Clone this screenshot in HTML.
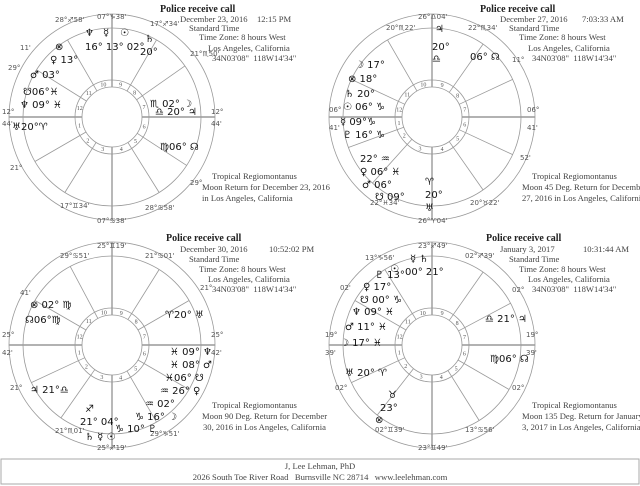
<!DOCTYPE html>
<html><head><meta charset="utf-8"><style>
body{margin:0;width:640px;height:486px;background:#fff;overflow:hidden;font-family:"Liberation Serif","DejaVu Serif",serif;color:#333;position:relative}
.t{position:absolute;font-size:8.6px;line-height:9px;white-space:nowrap;color:#444}
.h{position:absolute;font-size:10px;line-height:10px;font-weight:bold;white-space:nowrap;color:#222}
svg{position:absolute;left:0;top:0}
.g{font-family:"DejaVu Sans",sans-serif;fill:#111;font-size:10px}
.d{font-family:"DejaVu Sans",sans-serif;fill:#555;font-size:7px}
</style></head><body>
<svg id="sv" width="640" height="486" xmlns="http://www.w3.org/2000/svg">
<g id="charts" stroke="#999" fill="none" stroke-width="0.8"></g>
<rect x="1" y="459" width="638" height="25" fill="none" stroke="#aaa"/>
<!-- TL -->
<g class="d"><text x="97" y="19">07°♑38'</text><text x="97" y="223">07°♋38'</text><text x="2" y="114">12°</text><text x="2" y="126">44'</text><text x="211" y="114">12°</text><text x="211" y="126">44'</text><text x="55" y="22">28°♐58'</text><text x="150" y="26">17°♐34'</text><text x="190" y="56">21°♏50'</text><text x="20" y="50">11'</text><text x="8" y="70">29°</text><text x="10" y="170">21°</text><text x="190" y="185">29°</text><text x="60" y="208">17°♊34'</text><text x="145" y="210">28°♋58'</text></g>
<g class="g"><text x="85" y="36">♆</text><text x="103" y="36">☿</text><text x="120" y="36">☉</text><text x="145" y="42">♄</text><text x="55" y="50">⊗</text><text x="50" y="63">♀ 13°</text><text x="30" y="78">♂ 03°</text><text x="23" y="95">☋06°♓</text><text x="20" y="108">♆ 09° ♓</text><text x="12" y="130">♅20°♈</text><text x="150" y="107">♏ 02° ☽</text><text x="155" y="115">♎ 20° ♃</text><text x="160" y="150">♍06° ☊</text><text x="85" y="50">16° 13° 02°</text><text x="140" y="55">20°</text></g>
<!-- TR -->
<g class="d"><text x="418" y="19">26°♎04'</text><text x="418" y="223">26°♈04'</text><text x="329" y="112">06°</text><text x="329" y="130">41'</text><text x="527" y="112">06°</text><text x="527" y="130">41'</text><text x="386" y="30">20°♏22'</text><text x="468" y="30">22°♏34'</text><text x="512" y="62">11°</text><text x="520" y="160">52'</text><text x="470" y="205">20°♉22'</text><text x="370" y="205">22°♓34'</text></g>
<g class="g"><text x="435" y="32">♃</text><text x="432" y="50">20°</text><text x="432" y="62">♎</text><text x="470" y="60">06° ☊</text><text x="355" y="68">☽ 17°</text><text x="348" y="82">⊗ 18°</text><text x="345" y="97">♄ 20°</text><text x="343" y="110">☉ 06° ♑</text><text x="340" y="125">☿ 09°♑</text><text x="343" y="138">♇ 16° ♑</text><text x="360" y="162">22° ♒</text><text x="360" y="175">♀ 06° ♓</text><text x="362" y="188">♂ 06°</text><text x="375" y="200">☋ 09°</text><text x="425" y="185">♈</text><text x="425" y="198">20°</text><text x="425" y="211">♅</text></g>
<!-- BL -->
<g class="d"><text x="97" y="248">25°♊19'</text><text x="97" y="450">25°♐19'</text><text x="2" y="337">25°</text><text x="2" y="355">42'</text><text x="211" y="337">25°</text><text x="211" y="355">42'</text><text x="60" y="258">29°♋51'</text><text x="145" y="258">21°♋01'</text><text x="200" y="290">21°</text><text x="20" y="295">41'</text><text x="10" y="390">21°</text><text x="55" y="433">21°♏01'</text><text x="150" y="436">29°♑51'</text></g>
<g class="g"><text x="30" y="308">⊗ 02° ♍</text><text x="25" y="323">☊06°♍</text><text x="165" y="318">♈20° ♅</text><text x="170" y="355">♓ 09° ♆</text><text x="170" y="368">♓ 08° ♂</text><text x="165" y="381">♓06° ☋</text><text x="160" y="394">♒ 26° ♀</text><text x="145" y="407">♒ 02°</text><text x="135" y="420">♑ 16° ☽</text><text x="115" y="432">♑ 10° ♇</text><text x="85" y="412">♐</text><text x="80" y="425">21° 04°</text><text x="85" y="440">♄ ☿ ☉</text><text x="30" y="393">♃ 21°♎</text></g>
<!-- BR -->
<g class="d"><text x="418" y="248">23°♐49'</text><text x="418" y="450">23°♊49'</text><text x="325" y="337">19°</text><text x="325" y="355">39'</text><text x="526" y="337">19°</text><text x="526" y="355">39'</text><text x="365" y="260">13°♑56'</text><text x="465" y="258">02°♐39'</text><text x="512" y="292">02°</text><text x="512" y="390">02°</text><text x="340" y="290">02'</text><text x="335" y="390">02°</text><text x="375" y="432">02°♊39'</text><text x="465" y="432">13°♋56'</text></g>
<g class="g"><text x="410" y="262">☿ ♄</text><text x="390" y="272">☉</text><text x="405" y="275">00° 21°</text><text x="375" y="278">♇ 13°</text><text x="363" y="290">♀ 17°</text><text x="360" y="303">☋ 00° ♑</text><text x="352" y="315">♆ 09° ♓</text><text x="345" y="330">♂ 11° ♓</text><text x="340" y="346">☽ 17° ♓</text><text x="345" y="376">♅ 20° ♈</text><text x="388" y="398">♉</text><text x="380" y="411">23°</text><text x="375" y="423">⊗</text><text x="485" y="322">♎ 21° ♃</text><text x="490" y="362">♍06° ☊</text></g>
</svg>
<div class="h" style="left:160px;top:5px">Police receive call</div>
<div class="t" style="left:180px;top:15px">December 23, 2016</div><div class="t" style="left:257px;top:15px">12:15 PM</div>
<div class="t" style="left:189px;top:24px">Standard Time</div>
<div class="t" style="left:199px;top:33px">Time Zone: 8 hours West</div>
<div class="t" style="left:208px;top:44px">Los Angeles, California</div>
<div class="t" style="left:212px;top:54px">34N03'08"&nbsp;&nbsp;118W14'34"</div>
<div class="t" style="left:212px;top:172px">Tropical Regiomontanus</div>
<div class="t" style="left:202px;top:183px">Moon Return for December 23, 2016</div>
<div class="t" style="left:202px;top:194px">in Los Angeles, California</div>

<div class="h" style="left:480px;top:5px">Police receive call</div>
<div class="t" style="left:500px;top:15px">December 27, 2016</div><div class="t" style="left:582px;top:15px">7:03:33 AM</div>
<div class="t" style="left:509px;top:24px">Standard Time</div>
<div class="t" style="left:519px;top:33px">Time Zone: 8 hours West</div>
<div class="t" style="left:528px;top:44px">Los Angeles, California</div>
<div class="t" style="left:532px;top:54px">34N03'08"&nbsp;&nbsp;118W14'34"</div>
<div class="t" style="left:532px;top:172px">Tropical Regiomontanus</div>
<div class="t" style="left:522px;top:183px">Moon 45 Deg. Return for December</div>
<div class="t" style="left:522px;top:194px">27, 2016 in Los Angeles, California</div>

<div class="h" style="left:166px;top:234px">Police receive call</div>
<div class="t" style="left:180px;top:245px">December 30, 2016</div><div class="t" style="left:269px;top:245px">10:52:02 PM</div>
<div class="t" style="left:189px;top:255px">Standard Time</div>
<div class="t" style="left:199px;top:265px">Time Zone: 8 hours West</div>
<div class="t" style="left:208px;top:275px">Los Angeles, California</div>
<div class="t" style="left:212px;top:285px">34N03'08"&nbsp;&nbsp;118W14'34"</div>
<div class="t" style="left:212px;top:401px">Tropical Regiomontanus</div>
<div class="t" style="left:202px;top:412px">Moon 90 Deg. Return for December</div>
<div class="t" style="left:203px;top:423px">30, 2016 in Los Angeles, California</div>

<div class="h" style="left:486px;top:234px">Police receive call</div>
<div class="t" style="left:500px;top:245px">January 3, 2017</div><div class="t" style="left:583px;top:245px">10:31:44 AM</div>
<div class="t" style="left:509px;top:255px">Standard Time</div>
<div class="t" style="left:519px;top:265px">Time Zone: 8 hours West</div>
<div class="t" style="left:528px;top:275px">Los Angeles, California</div>
<div class="t" style="left:532px;top:285px">34N03'08"&nbsp;&nbsp;118W14'34"</div>
<div class="t" style="left:532px;top:401px">Tropical Regiomontanus</div>
<div class="t" style="left:522px;top:412px">Moon 135 Deg. Return for January</div>
<div class="t" style="left:522px;top:423px">3, 2017 in Los Angeles, California</div>

<div class="t" style="left:0;width:640px;text-align:center;top:462px">J, Lee Lehman, PhD</div>
<div class="t" style="left:0;width:640px;text-align:center;top:473px">2026 South Toe River Road&nbsp;&nbsp;&nbsp;Burnsville NC 28714&nbsp;&nbsp;&nbsp;www.leelehman.com</div>
<script>
var g=document.getElementById('charts'),NS='http://www.w3.org/2000/svg';
function el(n,a){var e=document.createElementNS(NS,n);for(var k in a)e.setAttribute(k,a[k]);g.appendChild(e);return e;}
var C=[[112,117],[432,117],[112,345],[432,345]];
var A=[[180,210,238,270,302,327,0,35,60,90,120,148],[180,200,228,270,305,335,0,25,55,90,120,155],[180,205,235,270,300,330,0,30,58,90,118,150],[180,205,232,270,302,330,0,28,55,90,122,150]];
C.forEach(function(c,i){var x=c[0],y=c[1];
el('circle',{cx:x,cy:y,r:103});el('circle',{cx:x,cy:y,r:89});el('circle',{cx:x,cy:y,r:37});el('circle',{cx:x,cy:y,r:30});
A[i].forEach(function(a,j){var r=a*Math.PI/180,ax=(j%3==0);
el('line',{x1:x+30*Math.cos(r),y1:y-30*Math.sin(r),x2:x+(ax?103:89)*Math.cos(r),y2:y-(ax?103:89)*Math.sin(r),'stroke-width':ax?1.4:0.8});
var m=(a+ (A[i][(j+1)%12]-a+360)%360/2)*Math.PI/180;
var t=el('text',{x:x+33.5*Math.cos(m),y:y-33.5*Math.sin(m)+2,'font-size':6,'text-anchor':'middle',fill:'#555',stroke:'none'});t.textContent=j+1;});
});
</script>
</body></html>
